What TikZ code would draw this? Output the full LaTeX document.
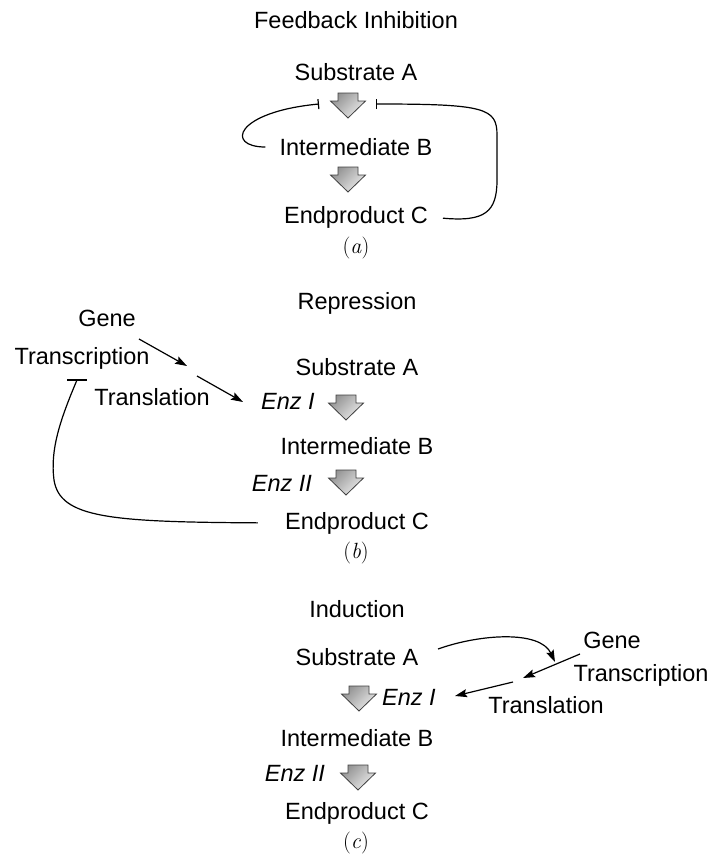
\documentclass[tikz,border=0pt]{standalone}
\usepackage{fontspec}
\newfontfamily\hv{Liberation Sans}
\usetikzlibrary{arrows.meta}
\begin{document}
\begin{tikzpicture}[x=1pt,y=-1pt,
  lbl/.style={font=\hv\fontsize{23.5}{28}\selectfont, inner sep=2pt},
  enz/.style={font=\hv\itshape\fontsize{23.5}{28}\selectfont, inner sep=2pt},
  partlbl/.style={font=\fontsize{22}{26}\selectfont, inner sep=2pt},
  conn/.style={line width=1.2pt},
  act/.style={conn,-{Stealth[length=12pt,width=8pt,inset=2pt]}},
  inh/.style={conn,-{Bar[width=10pt,line width=1.2pt]}},
  blockarrow/.pic={\shade[draw=black!75, line width=0.8pt, top color=gray!85, bottom color=gray!15, shading angle=45]
     (-10,-12) -- (10,-12) -- (10,-4) -- (17.5,-4) -- (0,13) -- (-17.5,-4) -- (-10,-4) -- cycle;}
]
\useasboundingbox (0,0) rectangle (712,862);

% (a) Feedback inhibition
\node[lbl] (titleA) at (356,20) {Feedback Inhibition};
\node[lbl] (sAa) at (356,72) {Substrate A};
\pic at (348,105) {blockarrow};
\coordinate (barLa) at (319,104);
\coordinate (barRa) at (376,104);
\node[lbl] (iBa) at (356,147) {Intermediate B};
\pic at (348,179) {blockarrow};
\node[lbl] (eCa) at (356,217) {Endproduct C};
\node[partlbl] (capA) at (356,248) {(\textit{a})};
\draw[inh, shorten <=12pt] (iBa.west) .. controls (225,147) and (235,112) .. (barLa);
\draw[inh, shorten <=13pt] (eCa.east) .. controls (485,222) and (497,212) .. (497,180) -- (497,135) .. controls (497,108) and (485,104) .. (barRa);

% (b) Repression
\node[lbl] (titleB) at (357,303) {Repression};
\node[lbl] (geneB) at (107,318) {Gene};
\node[lbl] (trcB) at (82,358) {Transcription};
\node[lbl] (sAb) at (357,367) {Substrate A};
\node[lbl] (trlB) at (152,397) {Translation};
\node[enz] (enzIb) at (288,401) {Enz I};
\pic at (346,407) {blockarrow};
\node[lbl] (iBb) at (357,446) {Intermediate B};
\node[enz] (enzIIb) at (282,483) {Enz II};
\pic at (346,482) {blockarrow};
\node[lbl] (eCb) at (357,523) {Endproduct C};
\node[partlbl] (capB) at (356,553) {(\textit{b})};
\coordinate (gB) at (139,339);
\coordinate (mB1) at (187,366);
\coordinate (mB2) at (197,376);
\coordinate (eB) at (243,402);
\draw[act] (gB) -- (mB1);
\draw[act] (mB2) -- (eB);
\coordinate (barB) at (77,380);
\coordinate (barB1) at (67,380);
\coordinate (barB2) at (87,380);
\draw[conn, shorten <=25pt] (eCb.west) .. controls (110,522) and (60,518) .. (54,480) .. controls (50,450) and (60,420) .. (barB);
\draw[conn] (barB1) -- (barB2);

% (c) Induction
\node[lbl] (titleC) at (357,609) {Induction};
\node[lbl] (sAc) at (357,657) {Substrate A};
\node[lbl] (geneC) at (612,640) {Gene};
\node[lbl] (trcC) at (641,675) {Transcription};
\node[lbl] (trlC) at (546,705) {Translation};
\pic at (359,698) {blockarrow};
\node[enz] (enzIc) at (409,697) {Enz I};
\node[lbl] (iBc) at (357,738) {Intermediate B};
\node[enz] (enzIIc) at (295,773) {Enz II};
\pic at (358,777) {blockarrow};
\node[lbl] (eCc) at (357,813) {Endproduct C};
\node[partlbl] (capC) at (356,843) {(\textit{c})};
\coordinate (sC0) at (438,649);
\coordinate (mC1) at (555,662);
\coordinate (gC) at (580,654);
\coordinate (mC2) at (523,678);
\coordinate (mC3) at (513,682);
\coordinate (eC) at (455,696);
\draw[act] (sC0) .. controls (480,634) and (540,630) .. (mC1);
\draw[act] (gC) -- (mC2);
\draw[act] (mC3) -- (eC);
\end{tikzpicture}
\end{document}
